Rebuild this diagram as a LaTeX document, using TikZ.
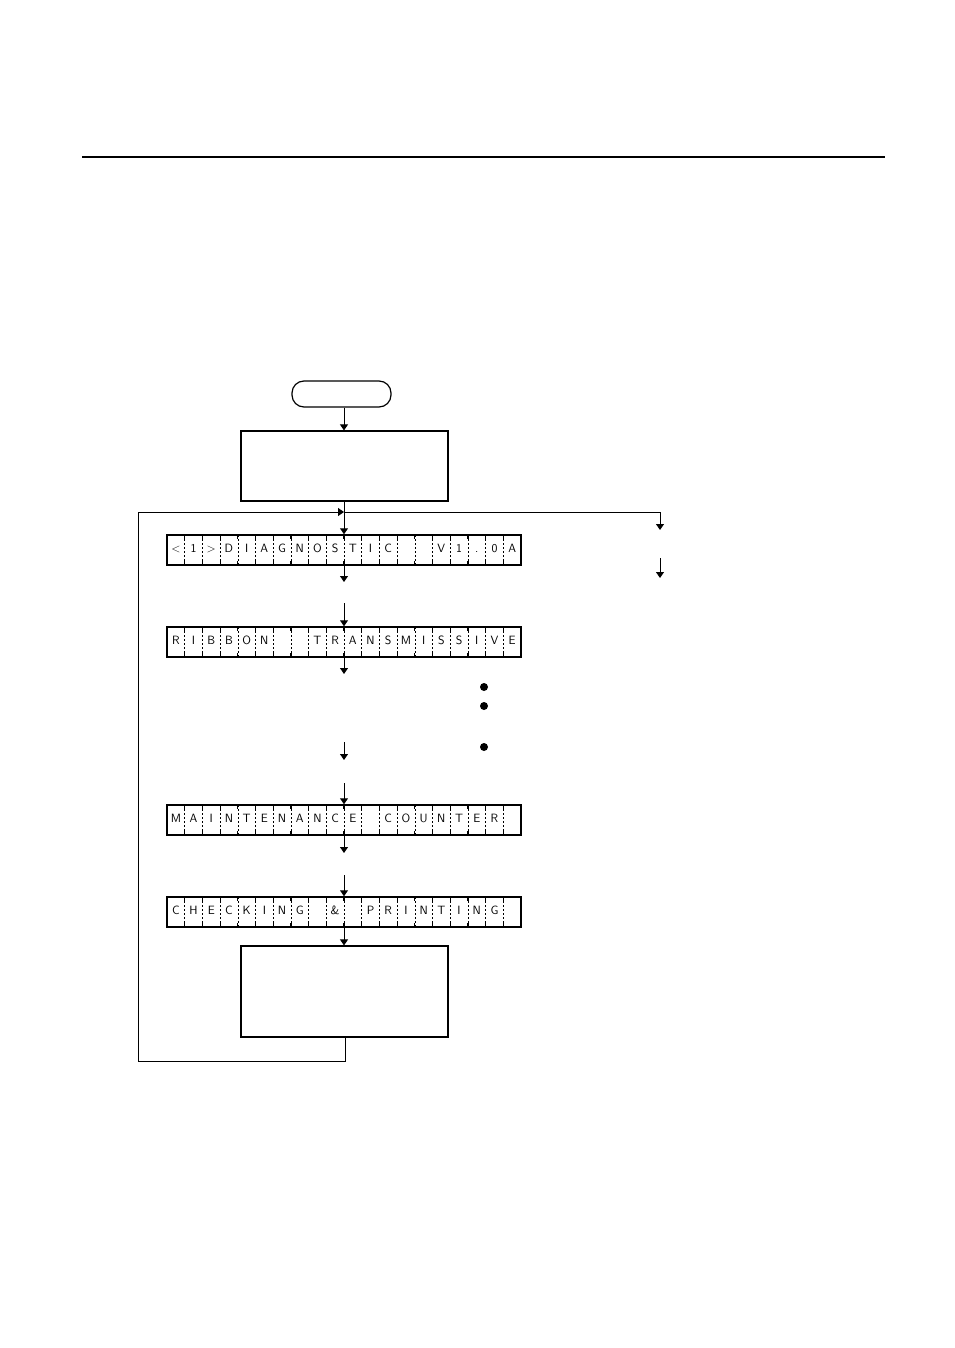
\documentclass[tikz,border=0pt]{standalone}
\usetikzlibrary{arrows.meta}
\begin{document}
\begin{tikzpicture}[x=1pt,y=-1pt,
 box/.style={draw,line width=1.2pt,minimum width=207pt,inner sep=0pt},
 lcd/.style={draw,line width=1.5pt,minimum width=354pt,inner sep=0pt},
 arr/.style={line width=1pt,-{Triangle[length=6pt,width=8pt]}},
 ln/.style={line width=1pt}]
\useasboundingbox (0,0) rectangle (954,1348);
\draw[line width=2.5pt] (82,157) -- (885,157);
\node[draw,line width=1.2pt,rounded corners=12pt,minimum width=99pt,minimum height=26pt] (start) at (341.5,394) {};
\node[box,minimum height=70pt] (b1) at (344.5,466) {};
\node[box,minimum height=91pt] (b5) at (344.5,991.5) {};
\newcommand{\lcdrow}[3]{%
 \node[lcd,minimum height=30pt] (#1) at (344,#2) {};
 \foreach \c [count=\i] in {#3} {
   \node[font=\sffamily\large] at (167+17.7*\i-8.85,#2) {\strut\c};
 }
 \foreach \i in {1,...,19} {
   \draw[line width=0.6pt,dash pattern=on 2pt off 2pt] (167+17.7*\i,#2-15) -- (167+17.7*\i,#2+15);
   \draw[line width=1.2pt] (167+17.7*\i,#2-15) -- (167+17.7*\i,#2-11);
   \draw[line width=1.2pt] (167+17.7*\i,#2+15) -- (167+17.7*\i,#2+11);
 }}
\lcdrow{l1}{550}{<,1,>,D,I,A,G,N,O,S,T,I,C,{},{},V,1,.,0,A}
\lcdrow{l2}{642}{R,I,B,B,O,N,{},{},T,R,A,N,S,M,I,S,S,I,V,E}
\lcdrow{l3}{820}{M,A,I,N,T,E,N,A,N,C,E,{},C,O,U,N,T,E,R,{}}
\lcdrow{l4}{912}{C,H,E,C,K,I,N,G,{},\&,{},P,R,I,N,T,I,N,G,{}}
\coordinate (j) at (344,512);
\coordinate (r) at (660,512);
\draw[arr] (start.south -| 344,0) -- (b1.north -| 344,0);
\draw[arr] (b1.south -| 344,0) -- (l1.north);
\draw[ln] (j) -- (r);
\draw[arr] (r) -- (660,530);
\draw[arr] (660,558) -- (660,578);
\draw[ln] (b5.south -| 345,0) -- (345,1061) -- (138,1061) -- (138,512) -- (336,512);
\draw[arr] (330,512) -- (j);
\draw[arr] (l1.south) -- (344,582);
\draw[arr] (344,603) -- (l2.north);
\draw[arr] (l2.south) -- (344,674);
\draw[arr] (344,742) -- (344,760);
\draw[arr] (344,783) -- (l3.north);
\draw[arr] (l3.south) -- (344,853);
\draw[arr] (344,875) -- (l4.north);
\draw[arr] (l4.south) -- (b5.north -| 344,0);
\foreach \y in {687,706,747} \fill (484,\y) circle (4pt);
\end{tikzpicture}
\end{document}
